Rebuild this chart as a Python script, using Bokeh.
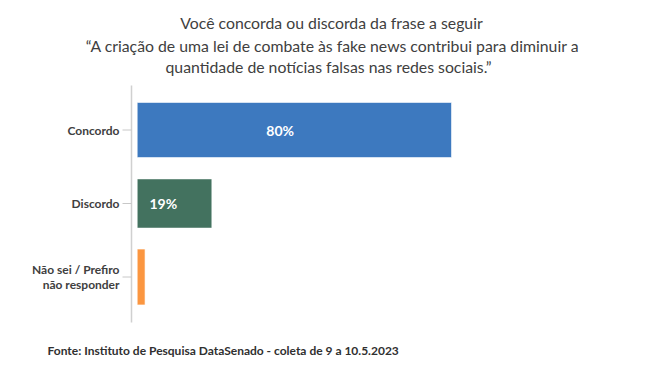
from bokeh.plotting import figure
from bokeh.models import Range1d, ColumnDataSource
from bokeh.core.properties import value
from bokeh.embed import file_html
from bokeh.resources import INLINE

# ---- data ----
categories = ["Concordo", "Discordo", "Não sei / Prefiro\nnão responder"]
values = [80, 19, 2]
value_labels = ["80%", "19%", ""]
colors = ["#3D79BF", "#43725F", "#FB9640"]
title_lines = [
    "Você concorda ou discorda da frase a seguir",
    "“A criação de uma lei de combate às fake news contribui para diminuir a",
    "quantidade de notícias falsas nas redes sociais.”",
]
source_text = "Fonte: Instituto de Pesquisa DataSenado - coleta de 9 a 10.5.2023"

# ---- layout (pixel geometry of the canvas) ----
W, H = 651, 371
PX_ZERO, PX_PER_UNIT = 136.7, 3.929      # x: value 0 at px 136.7
PY_TOP_CAT, PY_PER_CAT = 129.5, 73.5     # y: first category centre
FONT = "Lato"
TXT = "#404040"
n = len(categories)

X0 = -PX_ZERO / PX_PER_UNIT
X1 = X0 + W / PX_PER_UNIT
Y1 = (n - 1) + PY_TOP_CAT / PY_PER_CAT
Y0 = Y1 - H / PY_PER_CAT

def dx(px):
    return X0 + px / PX_PER_UNIT

def dy(py):
    return Y1 - py / PY_PER_CAT

p = figure(width=W, height=H, output_backend="svg", toolbar_location=None,
           x_range=Range1d(X0, X1), y_range=Range1d(Y0, Y1),
           min_border=0, x_axis_location=None, y_axis_location=None)
p.outline_line_color = None
p.grid.visible = False
p.background_fill_color = "white"
p.border_fill_color = "white"

ys = [n - 1 - i for i in range(n)]
heights = [0.75, 0.67, 0.76]
src = ColumnDataSource(dict(y=ys, right=values, color=colors, h=heights))
p.hbar(y="y", left=0, right="right", height="h", fill_color="color",
       line_color="white", line_alpha=0.6, line_width=1, source=src)

# category axis: line + outward ticks
ax_x = dx(131)
p.segment(x0=[ax_x], y0=[dy(85)], x1=[ax_x], y1=[dy(322)],
          line_color="#D0D0D0", line_width=1.5)
p.segment(x0=[dx(122)] * n, y0=ys, x1=[ax_x] * n, y1=ys,
          line_color="#C8C8C8", line_width=1)

# category labels
p.text(x=[dx(119)] * n, y=ys, text=categories, text_align="right",
       text_baseline="middle", text_font=value(FONT), text_font_size="12px",
       text_font_style="bold", text_color=TXT, text_line_height=1.0)

# value labels
label_frac = [0.455, 0.35, 0.5]
lx = [v * f for v, f in zip(values, label_frac)]
p.text(x=lx, y=ys, text=value_labels, text_align="center",
       text_baseline="middle", text_font=value(FONT), text_font_size="14px",
       text_font_style="bold", text_color="white")

# title
p.text(x=[dx(331), dx(332), dx(328)], y=[dy(22), dy(44.5), dy(65.5)],
       text=title_lines, text_align="center", text_baseline="middle",
       text_font=value(FONT), text_font_size="15.8px", text_color=TXT)

# source
p.text(x=[dx(47)], y=[dy(350)], text=[source_text], text_align="left",
       text_baseline="middle", text_font=value(FONT), text_font_size="12px",
       text_font_style="bold", text_color="#303030")

open("out.html", "w").write(file_html(p, INLINE))
